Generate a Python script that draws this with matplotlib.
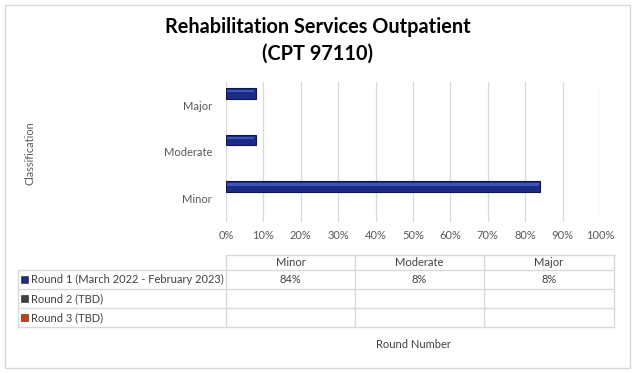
import matplotlib
matplotlib.use("Agg")
import matplotlib.pyplot as plt
from matplotlib.lines import Line2D
from matplotlib.patches import Rectangle

# ── data ──────────────────────────────────────────────────────────────────────
categories = ["Minor", "Moderate", "Major"]
series_names = ["Round 1 (March 2022 - February 2023)", "Round 2 (TBD)", "Round 3 (TBD)"]
round1 = [84, 8, 8]
round2 = [None, None, None]
round3 = [None, None, None]
series_colors = ["#1c2c86", "#3f3f3f", "#c8410f"]
xticks = list(range(0, 101, 10))

title = "Rehabilitation Services Outpatient\n(CPT 97110)"
ylabel = "Classification"
xlabel = "Round Number"

plt.rcParams["font.family"] = ["Lato", "DejaVu Sans"]
W, H = 635, 374
fig = plt.figure(figsize=(W / 100, H / 100), dpi=100)


def fx(px): return px / W
def fy(py): return 1 - py / H


# outer border
fig.add_artist(Rectangle((fx(5), fy(368)), fx(625), 363 / H, transform=fig.transFigure,
                         fill=False, edgecolor="#d9d9d9", linewidth=1))

fig.text(fx(318), fy(40), title, ha="center", va="center", fontsize=14.3,
         fontweight="bold", linespacing=1.4)

# ── bar area ──────────────────────────────────────────────────────────────────
ax = fig.add_axes([fx(226), fy(222), fx(600) - fx(226), (222 - 82) / H])
ypos = list(range(len(categories)))
bh = 0.235
offsets = [0.257, 0.0, -0.257]
for vals, off, col in zip([round1, round2, round3], offsets, series_colors):
    ys = [y + off for y, v in zip(ypos, vals) if v is not None]
    xs = [v for v in vals if v is not None]
    if not xs:
        continue
    ax.barh(ys, xs, height=bh, color=col, edgecolor="#0d1650", linewidth=0.8, zorder=3)
    # bevel highlight
    ax.barh([y + bh * 0.2 for y in ys], [x - 0.8 for x in xs], left=0.4,
            height=bh * 0.22, color="#3c55b8", linewidth=0, zorder=4)

ax.set_xlim(0, 100)
ax.set_ylim(-0.5, len(categories) - 0.5)
ax.set_xticks(xticks)
ax.set_xticklabels([f"{t}%" for t in xticks])
ax.set_yticks(ypos)
ax.set_yticklabels(categories)
ax.grid(axis="x", color="#d9d9d9", linewidth=0.9, zorder=0)
ax.tick_params(length=0, labelsize=8, colors="#595959", pad=6)
ax.tick_params(axis="y", pad=10)
for s in ax.spines.values():
    s.set_visible(False)

fig.text(fx(30), fy(153), ylabel, rotation=90, ha="center", va="center",
         fontsize=7.8, color="#595959")

# ── data table ────────────────────────────────────────────────────────────────
col_x = [18, 226, 355, 484, 614]
row_y = [255, 270, 289, 308, 327]
lc = "#d9d9d9"
fs = 8
# horizontal lines
fig.add_artist(Line2D([fx(226), fx(614)], [fy(255)] * 2, color=lc, lw=1))
for y in row_y[1:]:
    fig.add_artist(Line2D([fx(18), fx(614)], [fy(y)] * 2, color=lc, lw=1))
# vertical lines
fig.add_artist(Line2D([fx(18)] * 2, [fy(270), fy(327)], color=lc, lw=1))
for x in col_x[1:]:
    fig.add_artist(Line2D([fx(x)] * 2, [fy(255), fy(327)], color=lc, lw=1))

for i, c in enumerate(categories):
    cx = (col_x[i + 1] + col_x[i + 2]) / 2
    fig.text(fx(cx), fy(262.5), c, ha="center", va="center", fontsize=fs, color="#404040")

for r, (name, vals, col) in enumerate(zip(series_names, [round1, round2, round3], series_colors)):
    cy = (row_y[r + 1] + row_y[r + 2]) / 2
    fig.add_artist(Rectangle((fx(21), fy(cy + 3.5)), fx(7), 7 / H, transform=fig.transFigure,
                             facecolor=col, edgecolor="#222222", linewidth=0.4))
    fig.text(fx(31), fy(cy), name, ha="left", va="center", fontsize=fs, color="#404040")
    for i, v in enumerate(vals):
        if v is None:
            continue
        cx = (col_x[i + 1] + col_x[i + 2]) / 2
        fig.text(fx(cx), fy(cy), f"{v}%", ha="center", va="center", fontsize=fs, color="#404040")

fig.text(fx(413), fy(344), xlabel, ha="center", va="center", fontsize=fs, color="#404040")

fig.savefig("out.png", dpi=100)
